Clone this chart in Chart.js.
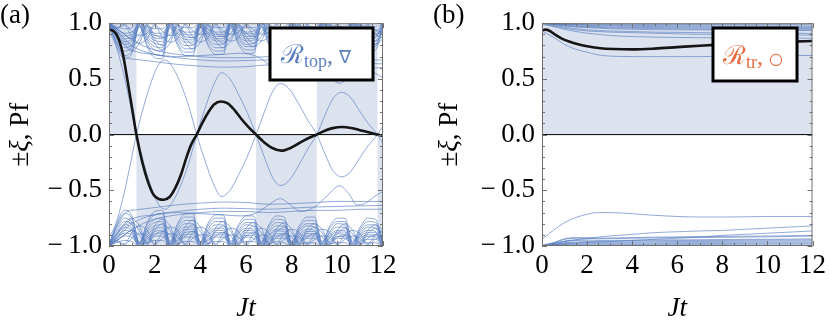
<!DOCTYPE html>
<html>
<head>
<meta charset="utf-8">
<script src="https://cdn.jsdelivr.net/npm/chart.js@4.4.1/dist/chart.umd.min.js"></script>
<style>
  html, body { margin: 0; padding: 0; background: #fff; }
  #page { position: relative; width: 830px; height: 321px; overflow: hidden; }
  .panel { position: absolute; top: 0; width: 415px; height: 321px; }
  #panelA { left: 0; }
  #panelB { left: 415px; }
</style>
</head>
<body>
<div id="page">
  <div class="panel" id="panelA"><canvas id="chartA" width="415" height="321"></canvas></div>
  <div class="panel" id="panelB"><canvas id="chartB" width="415" height="321"></canvas></div>
</div>
<script>
// axis ticks (both panels)
const xTicks = [0, 2, 4, 6, 8, 10, 12];
const yTicks = [-1, -0.5, 0, 0.5, 1];

// ==========================
// Panel (a): R_top
// ==========================

// Pfaffian (thick black curve)
const pfA_t = [0, 0.2, 0.4, 0.6, 0.8, 1.0, 1.2, 1.45, 1.7, 1.95, 2.2, 2.4, 2.65, 2.9, 3.15, 3.4, 3.6, 3.84,
  4.1, 4.35, 4.6, 4.9, 5.2, 5.5, 5.8, 6.1, 6.44, 6.8, 7.15, 7.55, 7.95, 8.3, 8.7, 9.1,
  9.45, 9.8, 10.2, 10.6, 11.0, 11.4, 11.76, 12];
const pfA = [0.94, 0.93, 0.87, 0.73, 0.5, 0.25, 0.0, -0.24, -0.42, -0.54, -0.58, -0.585, -0.56, -0.48, -0.36, -0.2, -0.09, 0.0,
  0.11, 0.2, 0.27, 0.297, 0.28, 0.22, 0.14, 0.07, 0.0, -0.07, -0.12, -0.144, -0.12, -0.08, -0.035, 0.0,
  0.035, 0.058, 0.068, 0.06, 0.04, 0.018, 0.0, -0.012];

// shaded half-plane flips at every zero of Pf
const shadeA_edges = [0, 1.2, 3.84, 6.44, 9.1, 11.76, 12];
const shadeA_sign = [1, -1, 1, -1, 1, -1];

// lowest eigenvalue, changes sign at the Pf zeros (drawn as +xi and -xi)
const xi1_t = [0, 0.3, 0.6, 0.9, 1.2, 1.53, 1.86, 2.15, 2.45, 2.8, 3.15, 3.5, 3.84, 4.2, 4.55, 4.93, 5.3, 5.7, 6.05, 6.44,
  6.8, 7.15, 7.5, 7.85, 8.3, 8.7, 9.1, 9.45, 9.8, 10.19, 10.55, 10.95, 11.35, 11.76, 12];
const xi1 = [-0.93, -0.8, -0.58, -0.3, 0, 0.26, 0.48, 0.62, 0.67, 0.6, 0.45, 0.25, 0, -0.23, -0.43, -0.555, -0.5, -0.35, -0.2, 0,
  0.2, 0.38, 0.458, 0.42, 0.28, 0.13, 0, -0.17, -0.32, -0.379, -0.34, -0.22, -0.1, 0, 0.08];

// isolated eigenvalues just inside the gap (magnitudes)
const xi2_t = [0, 0.4, 0.8, 1.2, 2, 3, 4, 5, 6, 7, 8, 9, 10, 11, 12];
const xi2 = [0.99, 0.8, 0.69, 0.675, 0.655, 0.63, 0.615, 0.605, 0.61, 0.625, 0.62, 0.61, 0.6, 0.6, 0.6];

const xi3_t = [0, 0.5, 1, 2, 3, 4, 5, 5.7, 6.5, 7.0, 7.5, 8.0, 8.4, 9.0, 9.5, 10.1, 10.5, 10.85, 11.2, 11.6, 12];
const xi3 = [0.99, 0.85, 0.76, 0.72, 0.7, 0.71, 0.72, 0.73, 0.7, 0.63, 0.575, 0.64, 0.69, 0.65, 0.56, 0.46, 0.53, 0.63, 0.62, 0.56, 0.51];

const xi4_t = [0, 0.5, 1, 2, 3, 4, 5, 6, 7, 8, 9, 10, 11, 12];
const xi4 = [1.0, 0.9, 0.8, 0.72, 0.69, 0.67, 0.66, 0.665, 0.67, 0.66, 0.65, 0.645, 0.64, 0.635];
const xi5 = [1.0, 0.93, 0.85, 0.76, 0.72, 0.7, 0.69, 0.69, 0.7, 0.69, 0.68, 0.68, 0.67, 0.67];

// dense bands near |xi| = 1 (magnitudes, one row per eigenvalue)
const bandT = [0, 0.33, 0.67, 1, 1.33, 1.67, 2, 2.33, 2.67, 3, 3.33, 3.67, 4, 4.33, 4.67, 5, 5.33, 5.67, 6, 6.33,
  6.67, 7, 7.33, 7.67, 8, 8.33, 8.67, 9, 9.33, 9.67, 10, 10.33, 10.67, 11, 11.33, 11.67, 12];
const band1 = [0.99, 0.80, 0.68, 0.73, 0.97, 0.79, 0.69, 0.68, 0.96, 0.80, 0.71, 0.71, 0.96, 0.80, 0.72, 0.72,
  0.96, 0.81, 0.73, 0.73, 0.96, 0.81, 0.73, 0.74, 0.96, 0.82, 0.74, 0.74, 0.96, 0.82, 0.75, 0.75, 0.96, 0.83, 0.75, 0.76, 0.96];
const band2 = [0.99, 0.85, 0.75, 0.79, 0.98, 0.84, 0.76, 0.75, 0.98, 0.85, 0.77, 0.77, 0.98, 0.85, 0.78, 0.78,
  0.98, 0.86, 0.79, 0.79, 0.98, 0.86, 0.79, 0.80, 0.98, 0.86, 0.80, 0.80, 0.98, 0.87, 0.80, 0.81, 0.98, 0.87, 0.81, 0.81, 0.98];
const band3 = [0.99, 0.89, 0.81, 0.84, 0.99, 0.88, 0.82, 0.81, 0.99, 0.89, 0.83, 0.83, 0.99, 0.89, 0.84, 0.84,
  0.99, 0.89, 0.84, 0.85, 0.99, 0.90, 0.85, 0.85, 0.99, 0.90, 0.85, 0.86, 0.99, 0.90, 0.86, 0.86, 0.99, 0.90, 0.86, 0.87, 0.99];
const band4 = [1.0, 0.92, 0.86, 0.88, 1.0, 0.92, 0.87, 0.86, 1.0, 0.92, 0.88, 0.87, 1.0, 0.92, 0.88, 0.88,
  1.0, 0.93, 0.88, 0.89, 1.0, 0.93, 0.89, 0.89, 1.0, 0.93, 0.89, 0.89, 1.0, 0.93, 0.89, 0.90, 1.0, 0.93, 0.90, 0.90, 1.0];
const band5 = [1.0, 0.95, 0.91, 0.92, 1.0, 0.95, 0.91, 0.91, 1.0, 0.95, 0.92, 0.92, 1.0, 0.95, 0.92, 0.92,
  1.0, 0.96, 0.92, 0.93, 1.0, 0.96, 0.93, 0.93, 1.0, 0.96, 0.93, 0.93, 1.0, 0.96, 0.93, 0.93, 1.0, 0.96, 0.94, 0.94, 1.0];
const band6 = [1.0, 0.97, 0.95, 0.96, 1.0, 0.97, 0.95, 0.95, 1.0, 0.98, 0.96, 0.96, 1.0, 0.98, 0.96, 0.96,
  1.0, 0.98, 0.96, 0.96, 1.0, 0.98, 0.96, 0.97, 1.0, 0.98, 0.97, 0.97, 1.0, 0.98, 0.97, 0.97, 1.0, 0.98, 0.97, 0.97, 1.0];
const band7 = [1.0, 0.93, 0.84, 0.79, 0.86, 0.98, 0.86, 0.80, 0.86, 0.98, 0.87, 0.81, 0.87, 0.98, 0.87, 0.82,
  0.87, 0.98, 0.88, 0.82, 0.88, 0.98, 0.88, 0.83, 0.88, 0.98, 0.88, 0.83, 0.88, 0.98, 0.89, 0.84, 0.89, 0.98, 0.89, 0.84, 0.89];
const band8 = [1.0, 0.96, 0.99, 0.93, 0.89, 0.91, 0.99, 0.93, 0.89, 0.91, 0.99, 0.93, 0.9, 0.91, 0.99, 0.93,
  0.9, 0.92, 0.99, 0.94, 0.9, 0.92, 0.99, 0.94, 0.91, 0.92, 0.99, 0.94, 0.91, 0.92, 0.99, 0.94, 0.91, 0.93, 0.99, 0.94, 0.91];
const band9 = [0.99, 0.82, 0.71, 0.75, 0.97, 0.81, 0.72, 0.71, 0.97, 0.82, 0.74, 0.74, 0.97, 0.82, 0.75, 0.75,
  0.97, 0.83, 0.76, 0.76, 0.97, 0.83, 0.76, 0.77, 0.97, 0.84, 0.77, 0.77, 0.97, 0.84, 0.78, 0.78, 0.97, 0.85, 0.78, 0.79, 0.97];
const band10 = [0.99, 0.87, 0.78, 0.81, 0.98, 0.86, 0.79, 0.78, 0.98, 0.87, 0.80, 0.80, 0.98, 0.87, 0.81, 0.81,
  0.98, 0.88, 0.81, 0.82, 0.98, 0.88, 0.82, 0.82, 0.98, 0.88, 0.82, 0.83, 0.98, 0.88, 0.83, 0.83, 0.98, 0.89, 0.83, 0.84, 0.98];
const band11 = [1.0, 0.905, 0.835, 0.86, 1.0, 0.9, 0.845, 0.835, 1.0, 0.905, 0.855, 0.85, 1.0, 0.905, 0.86, 0.86,
  1.0, 0.91, 0.86, 0.865, 1.0, 0.91, 0.865, 0.87, 1.0, 0.915, 0.87, 0.87, 1.0, 0.915, 0.875, 0.875, 1.0, 0.915, 0.88, 0.88, 1.0];
const band12 = [1.0, 0.935, 0.885, 0.9, 1.0, 0.935, 0.89, 0.885, 1.0, 0.94, 0.9, 0.895, 1.0, 0.94, 0.9, 0.9,
  1.0, 0.94, 0.905, 0.905, 1.0, 0.945, 0.91, 0.91, 1.0, 0.945, 0.91, 0.91, 1.0, 0.945, 0.915, 0.915, 1.0, 0.95, 0.915, 0.92, 1.0];
const band13 = [1.0, 0.9, 0.8, 0.75, 0.82, 0.97, 0.82, 0.76, 0.82, 0.97, 0.83, 0.77, 0.83, 0.97, 0.84, 0.78,
  0.84, 0.97, 0.84, 0.79, 0.84, 0.97, 0.85, 0.79, 0.85, 0.97, 0.85, 0.8, 0.85, 0.97, 0.86, 0.8, 0.86, 0.97, 0.86, 0.81, 0.86];
const band14 = [1.0, 0.95, 0.98, 0.88, 0.82, 0.86, 0.98, 0.88, 0.83, 0.86, 0.98, 0.88, 0.83, 0.87, 0.98, 0.89,
  0.84, 0.87, 0.98, 0.89, 0.84, 0.88, 0.98, 0.89, 0.85, 0.88, 0.98, 0.9, 0.85, 0.88, 0.98, 0.9, 0.86, 0.89, 0.98, 0.9, 0.86];
const band15 = [1.0, 0.95, 0.9, 0.86, 0.9, 0.99, 0.9, 0.87, 0.9, 0.99, 0.91, 0.87, 0.91, 0.99, 0.91, 0.88,
  0.91, 0.99, 0.91, 0.88, 0.92, 0.99, 0.92, 0.89, 0.92, 0.99, 0.92, 0.89, 0.92, 0.99, 0.92, 0.9, 0.93, 0.99, 0.93, 0.9, 0.93];
const bandsA = [band1, band2, band3, band4, band5, band6, band7, band8, band9, band10, band11, band12, band13, band14, band15];

// ==========================
// Panel (b): R_tr
// ==========================
const pfB_t = [0, 0.15, 0.35, 0.6, 0.9, 1.2, 1.6, 2.0, 2.6, 3.2, 4, 5, 6, 7, 8, 9, 10, 11, 12];
const pfB = [0.935, 0.942, 0.93, 0.895, 0.86, 0.835, 0.81, 0.793, 0.775, 0.768, 0.765, 0.772, 0.785, 0.798, 0.81, 0.82, 0.828, 0.835, 0.84];

const bT = [0, 0.5, 1, 1.5, 2, 2.5, 3, 4, 5, 6, 7, 8, 9, 10, 11, 12];
const bUpper = [
  [0.93, 0.875, 0.81, 0.765, 0.74, 0.715, 0.705, 0.70, 0.70, 0.70, 0.70, 0.705, 0.71, 0.71, 0.71, 0.71],
  [0.99, 0.97, 0.945, 0.925, 0.91, 0.9, 0.89, 0.88, 0.875, 0.872, 0.87, 0.868, 0.867, 0.866, 0.866, 0.865],
  [1.0, 0.975, 0.955, 0.94, 0.93, 0.925, 0.92, 0.915, 0.91, 0.905, 0.9, 0.9, 0.898, 0.896, 0.895, 0.893],
  [1.0, 0.985, 0.965, 0.95, 0.94, 0.935, 0.93, 0.925, 0.92, 0.918, 0.915, 0.913, 0.912, 0.91, 0.91, 0.908],
  [1.0, 0.99, 0.975, 0.965, 0.96, 0.955, 0.95, 0.945, 0.942, 0.94, 0.94, 0.938, 0.936, 0.935, 0.935, 0.934],
  [1.0, 0.99, 0.98, 0.97, 0.966, 0.962, 0.958, 0.955, 0.952, 0.95, 0.948, 0.946, 0.945, 0.944, 0.943, 0.942],
  [1.0, 0.995, 0.985, 0.978, 0.972, 0.968, 0.965, 0.962, 0.96, 0.958, 0.957, 0.956, 0.955, 0.954, 0.953, 0.952],
  [1.0, 0.997, 0.99, 0.985, 0.98, 0.977, 0.975, 0.972, 0.97, 0.968, 0.967, 0.966, 0.965, 0.964, 0.963, 0.962],
  [1.0, 0.998, 0.993, 0.99, 0.986, 0.984, 0.982, 0.98, 0.978, 0.977, 0.976, 0.975, 0.975, 0.974, 0.973, 0.972],
  [1.0, 0.999, 0.997, 0.995, 0.993, 0.992, 0.99, 0.99, 0.989, 0.988, 0.988, 0.987, 0.987, 0.986, 0.986, 0.985]
];
const bLower = [
  [-0.94, -0.86, -0.79, -0.745, -0.715, -0.70, -0.70, -0.71, -0.725, -0.735, -0.74, -0.74, -0.738, -0.735, -0.735, -0.735],
  [-0.99, -0.975, -0.96, -0.945, -0.93, -0.92, -0.91, -0.895, -0.88, -0.872, -0.865, -0.86, -0.85, -0.84, -0.83, -0.82],
  [-1.0, -0.99, -0.98, -0.975, -0.97, -0.965, -0.96, -0.95, -0.94, -0.93, -0.92, -0.905, -0.895, -0.885, -0.875, -0.865],
  [-1.0, -0.975, -0.935, -0.925, -0.928, -0.93, -0.928, -0.925, -0.92, -0.918, -0.915, -0.914, -0.912, -0.91, -0.908, -0.905],
  [-1.0, -0.97, -0.94, -0.93, -0.93, -0.935, -0.935, -0.93, -0.928, -0.925, -0.925, -0.922, -0.92, -0.918, -0.915, -0.91],
  [-1.0, -0.98, -0.955, -0.945, -0.945, -0.95, -0.95, -0.948, -0.945, -0.945, -0.944, -0.942, -0.94, -0.94, -0.938, -0.936],
  [-1.0, -0.985, -0.96, -0.952, -0.955, -0.958, -0.957, -0.955, -0.953, -0.952, -0.95, -0.95, -0.948, -0.947, -0.946, -0.945],
  [-1.0, -0.99, -0.97, -0.965, -0.962, -0.965, -0.967, -0.965, -0.962, -0.96, -0.96, -0.958, -0.957, -0.956, -0.955, -0.955],
  [-1.0, -0.99, -0.975, -0.972, -0.972, -0.974, -0.975, -0.973, -0.971, -0.97, -0.969, -0.968, -0.967, -0.966, -0.966, -0.965],
  [-1.0, -0.995, -0.985, -0.982, -0.98, -0.982, -0.983, -0.982, -0.98, -0.978, -0.978, -0.977, -0.976, -0.975, -0.975, -0.975],
  [-1.0, -0.998, -0.99, -0.988, -0.988, -0.99, -0.99, -0.989, -0.988, -0.987, -0.986, -0.986, -0.985, -0.985, -0.984, -0.984]
];
const shadeB_edges = [0, 12];
const shadeB_sign = [1];

// --------------------------
// styling helpers
// --------------------------
const SERIF = '"Liberation Serif", "DejaVu Serif", serif';
const BLUE = 'rgba(84,122,192,0.8)';
const SHADE = 'rgb(221,227,238)';

function pts(t, v, s) {
  s = s || 1;
  return t.map((x, i) => ({ x: x, y: s * v[i] }));
}

function blueLine(t, v, s) {
  return { data: pts(t, v, s), borderColor: BLUE, borderWidth: 0.8, order: 5 };
}

function shadeSet(edges, sign) {
  const d = [];
  for (let i = 0; i < sign.length; i++) {
    d.push({ x: edges[i], y: sign[i] });
    d.push({ x: edges[i + 1], y: sign[i] });
  }
  return { data: d, fill: 'origin', backgroundColor: SHADE, borderWidth: 0, borderColor: 'rgba(0,0,0,0)',
    tension: 0, cubicInterpolationMode: 'default', order: 10 };
}

function zeroLine() {
  return { data: [{ x: 0, y: 0 }, { x: 12, y: 0 }], borderColor: '#000', borderWidth: 1, order: 2 };
}

function fmt(v) {
  const s = Math.abs(v).toFixed(1);
  return v < 0 ? '\u2212\u2009' + s : s;
}

function drawParts(ctx, x, y, parts) {
  parts.forEach(p => {
    ctx.font = p.font;
    ctx.fillText(p.text, x, y + (p.dy || 0));
    x += ctx.measureText(p.text).width;
  });
}

// frame, inside ticks, labels and legend box
function decoPlugin(deco) {
  return {
    id: 'deco',
    afterDatasetsDraw(chart) {
      const ctx = chart.ctx;
      const a = chart.chartArea;
      const x = chart.scales.x, y = chart.scales.y;
      ctx.save();

      // frame + ticks
      ctx.strokeStyle = '#707070';
      ctx.lineWidth = 1;
      ctx.strokeRect(a.left + 0.5, a.top + 0.5, a.right - a.left - 1, a.bottom - a.top - 1);
      ctx.beginPath();
      for (let i = 0; i <= 24; i++) {
        const px = Math.round(x.getPixelForValue(i / 2)) + 0.5;
        const len = i % 4 === 0 ? 5 : 3;
        ctx.moveTo(px, a.bottom); ctx.lineTo(px, a.bottom - len);
        ctx.moveTo(px, a.top); ctx.lineTo(px, a.top + len);
      }
      for (let i = -10; i <= 10; i++) {
        const py = Math.round(y.getPixelForValue(i / 10)) + 0.5;
        const len = i % 5 === 0 ? 5 : 3;
        ctx.moveTo(a.left, py); ctx.lineTo(a.left + len, py);
        ctx.moveTo(a.right, py); ctx.lineTo(a.right - len, py);
      }
      ctx.stroke();

      // legend box
      const b = deco.box;
      ctx.fillStyle = '#fff';
      ctx.fillRect(b[0], b[1], b[2], b[3]);
      ctx.strokeStyle = '#000';
      ctx.lineWidth = 3;
      ctx.strokeRect(b[0], b[1], b[2], b[3]);
      ctx.fillStyle = deco.legendColor;
      ctx.textBaseline = 'alphabetic';
      ctx.textAlign = 'left';
      drawParts(ctx, deco.legendX, deco.legendY, deco.legendParts);

      // panel label
      ctx.fillStyle = '#000';
      ctx.font = '27px ' + SERIF;
      ctx.fillText(deco.label, deco.labelX, 23);

      // x title
      ctx.font = 'italic 27px ' + SERIF;
      ctx.textAlign = 'center';
      ctx.fillText('Jt', (a.left + a.right) / 2, 316);

      // y title, rotated
      const parts = [
        { text: '\u00b1', font: '27px ' + SERIF },
        { text: '\u03be', font: 'italic 27px ' + SERIF },
        { text: ', Pf', font: '27px ' + SERIF }
      ];
      let w = 0;
      parts.forEach(p => { ctx.font = p.font; w += ctx.measureText(p.text).width; });
      ctx.translate(deco.yTitleX, (a.top + a.bottom) / 2);
      ctx.rotate(-Math.PI / 2);
      ctx.textAlign = 'left';
      drawParts(ctx, -w / 2, 0, parts);
      ctx.restore();
    }
  };
}

function makeOptions(leftW, padRight) {
  const tickFont = { family: SERIF, size: 27 };
  return {
    responsive: false,
    animation: false,
    events: [],
    layout: { padding: { left: 0, right: padRight, top: 19, bottom: 0 } },
    elements: {
      point: { radius: 0 },
      line: { cubicInterpolationMode: 'monotone', fill: false }
    },
    plugins: { legend: { display: false }, tooltip: { enabled: false } },
    scales: {
      x: {
        type: 'linear', min: 0, max: 12,
        afterFit: s => { s.height = 75; },
        afterBuildTicks: s => { s.ticks = xTicks.map(v => ({ value: v })); },
        ticks: { font: tickFont, color: '#000', padding: 4, maxRotation: 0, autoSkip: false, callback: v => String(v) },
        grid: { display: false, drawTicks: false },
        border: { display: false }
      },
      y: {
        type: 'linear', min: -1, max: 1,
        afterFit: s => { s.width = leftW; },
        afterBuildTicks: s => { s.ticks = yTicks.map(v => ({ value: v })); },
        ticks: { font: tickFont, color: '#000', padding: 7, callback: v => fmt(v) },
        grid: { display: false, drawTicks: false },
        border: { display: false }
      }
    }
  };
}

// ==========================
// build panel (a)
// ==========================
const setsA = [shadeSet(shadeA_edges, shadeA_sign)];
bandsA.forEach(b => {
  setsA.push(blueLine(bandT, b, 1));
  setsA.push(blueLine(bandT, b, -1));
});
setsA.push(blueLine(xi1_t, xi1, 1), blueLine(xi1_t, xi1, -1));
setsA.push(blueLine(xi2_t, xi2, 1), blueLine(xi2_t, xi2, -1));
setsA.push(blueLine(xi3_t, xi3, 1), blueLine(xi3_t, xi3, -1));
setsA.push(blueLine(xi4_t, xi4, 1), blueLine(xi4_t, xi4, -1));
setsA.push(blueLine(xi4_t, xi5, 1), blueLine(xi4_t, xi5, -1));
setsA.push(zeroLine());
setsA.push({ data: pts(pfA_t, pfA), borderColor: '#151515', borderWidth: 2.6, order: 1 });

new Chart(document.getElementById('chartA'), {
  type: 'line',
  data: { datasets: setsA },
  options: makeOptions(109, 32),
  plugins: [decoPlugin({
    label: '(a)', labelX: 0, yTitleX: 28,
    box: [270, 28, 103, 52],
    legendColor: '#5b7fc0', legendX: 281, legendY: 63,
    legendParts: [
      { text: '\u211b', font: '26px "DejaVu Serif", serif' },
      { text: 'top', font: '18px ' + SERIF, dy: 4 },
      { text: ', ', font: '24px ' + SERIF },
      { text: '\u2207', font: '18px "DejaVu Sans", sans-serif' }
    ]
  })]
});

// ==========================
// build panel (b)
// ==========================
const setsB = [shadeSet(shadeB_edges, shadeB_sign)];
bUpper.forEach(v => setsB.push(blueLine(bT, v, 1)));
bLower.forEach(v => setsB.push(blueLine(bT, v, 1)));
setsB.push(zeroLine());
setsB.push({ data: pts(pfB_t, pfB), borderColor: '#151515', borderWidth: 2.6, order: 1 });

new Chart(document.getElementById('chartB'), {
  type: 'line',
  data: { datasets: setsB },
  options: makeOptions(127, 14),
  plugins: [decoPlugin({
    label: '(b)', labelX: 18, yTitleX: 42,
    box: [298, 28, 84, 53],
    legendColor: '#ec6a3f', legendX: 308, legendY: 64,
    legendParts: [
      { text: '\u211b', font: '26px "DejaVu Serif", serif' },
      { text: 'tr', font: '18px ' + SERIF, dy: 4 },
      { text: ', ', font: '24px ' + SERIF },
      { text: '\u25cb', font: '16px "DejaVu Sans", sans-serif' }
    ]
  })]
});
</script>
</body>
</html>
